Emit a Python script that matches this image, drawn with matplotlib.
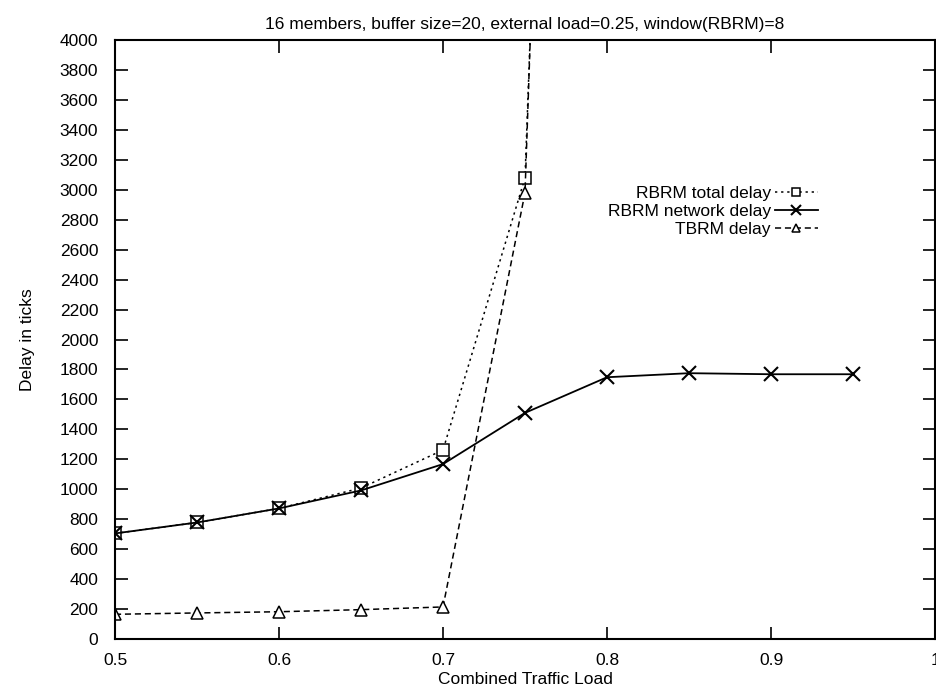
import matplotlib
matplotlib.use("Agg")
import matplotlib.pyplot as plt

plt.rcParams['font.family'] = ['Liberation Sans', 'DejaVu Sans']
plt.rcParams['font.size'] = 12

# combined traffic load on the x axis
load_total = [0.5, 0.55, 0.6, 0.65, 0.7, 0.75, 0.8]
load_net = [0.5, 0.55, 0.6, 0.65, 0.7, 0.75, 0.8, 0.85, 0.9, 0.95]
load_tbrm = [0.5, 0.55, 0.6, 0.65, 0.7, 0.75, 0.8]

# delays in ticks
rbrm_total = [705, 778, 872, 1008, 1262, 3080, 18000]
rbrm_network = [705, 778, 872, 992, 1168, 1510, 1748, 1775, 1768, 1768]
tbrm_delay = [165, 174, 182, 196, 214, 2980, 19000]

xticks = [0.5, 0.6, 0.7, 0.8, 0.9, 1.0]
xtick_labels = ['0.5', '0.6', '0.7', '0.8', '0.9', '1']
yticks = list(range(0, 4001, 200))

fig = plt.figure(figsize=(9.37, 6.88), dpi=100)
ax = fig.add_axes([115 / 937, 1 - 639 / 688, (935 - 115) / 937, (639 - 40) / 688])

ax.plot(load_total, rbrm_total, color='black', lw=1.1, linestyle=(0, (1.5, 2.5)),
        marker='s', markersize=8, markerfacecolor='white', markeredgewidth=1.1,
        label='RBRM total delay')
ax.plot(load_net, rbrm_network, color='black', lw=1.3, linestyle='-',
        marker='x', markersize=10, markeredgewidth=1.5,
        label='RBRM network delay')
ax.plot(load_tbrm, tbrm_delay, color='black', lw=1.1, linestyle=(0, (4, 2.5)),
        marker='^', markersize=8, markerfacecolor='white', markeredgewidth=1.1,
        label='TBRM delay')

ax.set_xlim(0.5, 1.0)
ax.set_ylim(0, 4000)
ax.set_xticks(xticks)
ax.set_xticklabels(xtick_labels)
ax.set_yticks(yticks)
ax.tick_params(direction='in', length=9, width=1.2, top=True, right=True,
               labelsize=12.5)
ax.tick_params(axis='x', pad=10)
ax.tick_params(axis='y', pad=12)
for s in ax.spines.values():
    s.set_linewidth(1.5)

ax.set_title('16 members, buffer size=20, external load=0.25, window(RBRM)=8',
             fontsize=12.5, pad=8)
ax.set_xlabel('Combined Traffic Load', fontsize=12.5, labelpad=3)
ax.set_ylabel('Delay in ticks', fontsize=12.5, labelpad=18)

ax.legend(loc='center right', bbox_to_anchor=(0.857, 0.714), frameon=False,
          markerfirst=False, handlelength=2.45, handletextpad=0.25,
          labelspacing=0.15, borderpad=0, borderaxespad=0, markerscale=0.75,
          fontsize=12.5)

fig.savefig('out.png', dpi=100)
